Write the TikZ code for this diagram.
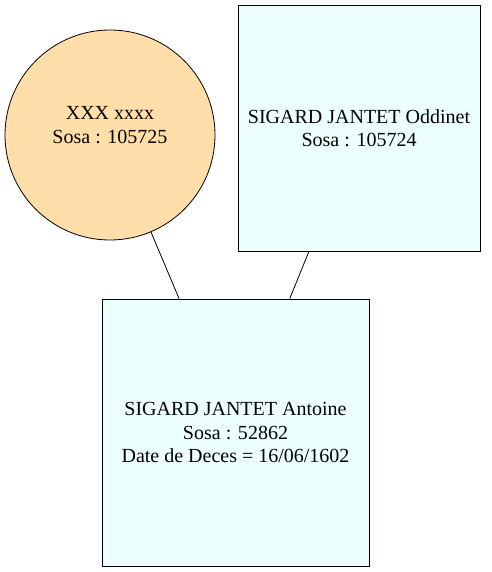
\documentclass[tikz,border=0pt]{standalone}
\usepackage{fontspec}
\setmainfont{Liberation Serif}
\definecolor{circfill}{HTML}{FFDEAA}
\definecolor{boxfill}{HTML}{EEFFFF}
\begin{document}
\begin{tikzpicture}[x=1pt,y=-1pt,
  person/.style={draw=black,line width=0.8pt,align=center,inner sep=0pt,font=\fontsize{20}{23.5}\selectfont},
  link/.style={draw=black,line width=0.8pt}]
\useasboundingbox (0,0) rectangle (491,572);
\node[person,circle,fill=circfill,minimum size=210pt] (xxx) at (110,135) {XXX xxxx\\Sosa : 105725\rule[-20pt]{0pt}{1pt}};
\node[person,rectangle,fill=boxfill,minimum width=242pt,minimum height=246pt] (oddinet) at (359,128) {SIGARD JANTET Oddinet\\Sosa : 105724};
\node[person,rectangle,fill=boxfill,minimum width=267pt,minimum height=267pt] (antoine) at (235.5,432.5) {SIGARD JANTET Antoine\\Sosa : 52862\\Date de Deces = 16/06/1602};
\draw[link] (xxx) -- (antoine);
\draw[link] (oddinet) -- (antoine);
\end{tikzpicture}
\end{document}
